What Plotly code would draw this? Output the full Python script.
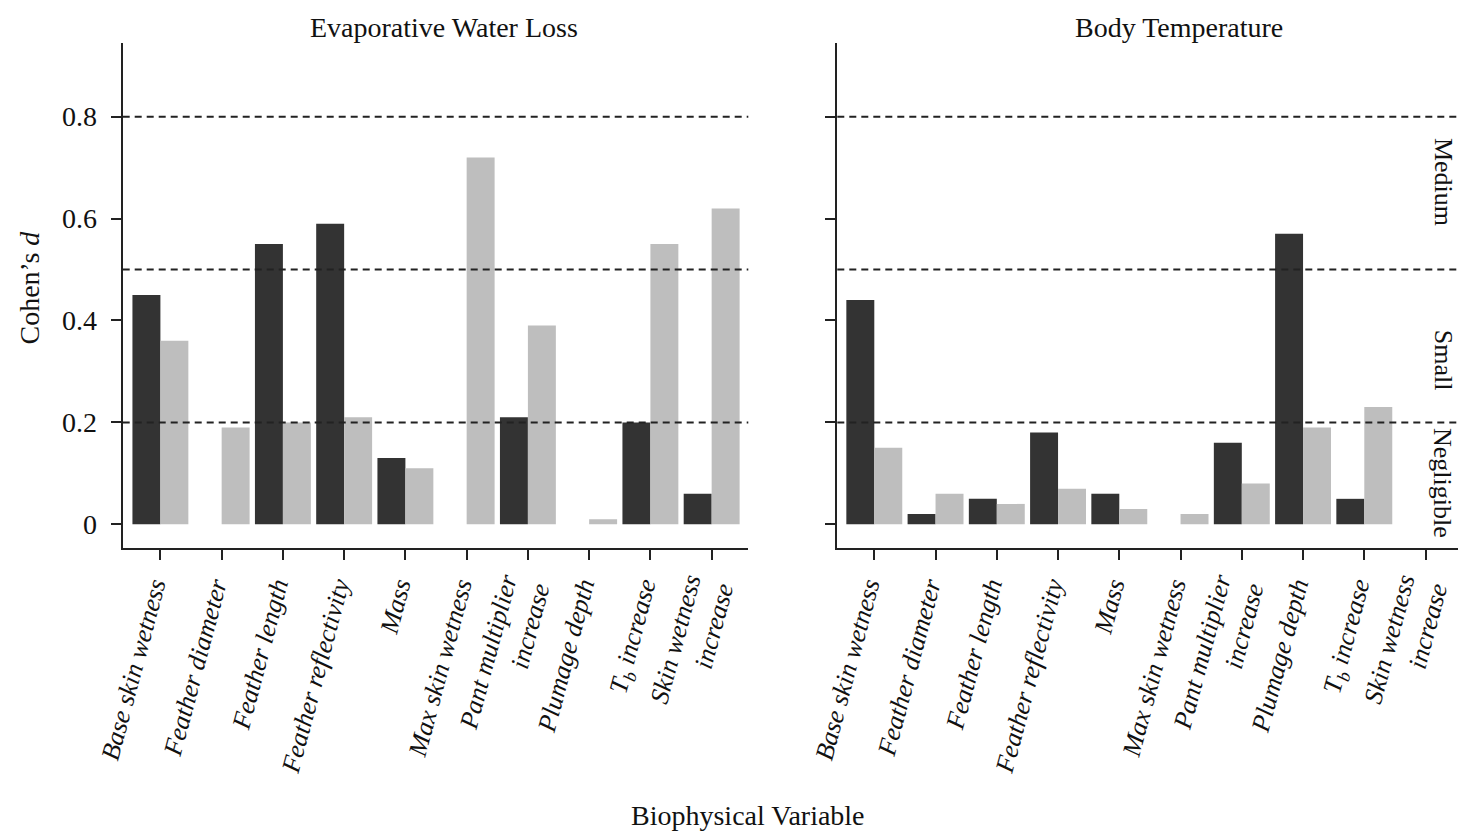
import plotly.graph_objects as go

categories = ["Base skin wetness", "Feather diameter", "Feather length", "Feather reflectivity",
              "Mass", "Max skin wetness", "Pant multiplier increase", "Plumage depth",
              "Tb increase", "Skin wetness increase"]
tick_labels = ["Base skin wetness", "Feather diameter", "Feather length", "Feather reflectivity",
               "Mass", "Max skin wetness", "Pant multiplier<br>increase", "Plumage depth",
               "T<sub>b</sub> increase", "Skin wetness<br>increase"]

ewl_dark = [0.45, 0.0, 0.55, 0.59, 0.13, 0.0, 0.21, 0.0, 0.20, 0.06]
ewl_light = [0.36, 0.19, 0.20, 0.21, 0.11, 0.72, 0.39, 0.01, 0.55, 0.62]
tb_dark = [0.44, 0.02, 0.05, 0.18, 0.06, 0.0, 0.16, 0.57, 0.05, 0.0]
tb_light = [0.15, 0.06, 0.04, 0.07, 0.03, 0.02, 0.08, 0.19, 0.23, 0.0]

thresholds = [0.2, 0.5, 0.8]
y_ticks = [0, 0.2, 0.4, 0.6, 0.8]
y_tick_text = ["0", "0.2", "0.4", "0.6", "0.8"]
band_labels = ["Medium", "Small", "Negligible"]
band_pos = [0.672, 0.323, 0.081]

DARK = "#333333"
LIGHT = "#bebebe"
FONT = "Liberation Serif"
W, H = 1458, 831

idx = list(range(len(categories)))

fig = go.Figure()
fig.add_trace(go.Bar(x=idx, y=ewl_dark, marker=dict(color=DARK, line=dict(width=0)), xaxis="x", yaxis="y", showlegend=False))
fig.add_trace(go.Bar(x=idx, y=ewl_light, marker=dict(color=LIGHT, line=dict(width=0)), xaxis="x", yaxis="y", showlegend=False))
fig.add_trace(go.Bar(x=idx, y=tb_dark, marker=dict(color=DARK, line=dict(width=0)), xaxis="x2", yaxis="y2", showlegend=False))
fig.add_trace(go.Bar(x=idx, y=tb_light, marker=dict(color=LIGHT, line=dict(width=0)), xaxis="x2", yaxis="y2", showlegend=False))

def px_x(p):
    return p / W

def px_y(p):
    return (H - p) / H

ydom = [px_y(548.3), px_y(42.7)]
yrange = [-0.0471, 0.9452]
spacing = 61.25

xaxis_common = dict(
    tickmode="array", tickvals=idx, ticktext=tick_labels, tickangle=-75,
    tickfont=dict(family=FONT, size=26, color="#111", style="italic"),
    ticks="outside", ticklen=10, tickwidth=1.5, tickcolor="#222",
    showline=True, linecolor="#222", linewidth=2, showgrid=False, zeroline=False,
    fixedrange=True, automargin=False, ticklabeloverflow="allow",
    ticklabelshift=-7,
)
yaxis_common = dict(
    tickmode="array", tickvals=y_ticks, ticktext=y_tick_text, range=yrange, domain=ydom,
    tickfont=dict(family=FONT, size=28, color="#111"),
    ticks="outside", ticklen=10, tickwidth=1.5, tickcolor="#222",
    showline=True, linecolor="#222", linewidth=2, showgrid=False, zeroline=False,
    automargin=False,
)

l0, l1 = 122.7, 748.3
r0, r1 = 837.3, 1458
fig.update_layout(
    xaxis=dict(xaxis_common, domain=[px_x(l0), px_x(l1)], anchor="y",
               range=[(l0 - 160.4) / spacing, (l1 - 160.4) / spacing]),
    yaxis=dict(yaxis_common, anchor="x", ticklabelstandoff=8),
    xaxis2=dict(xaxis_common, domain=[px_x(r0), 1.0], anchor="y2",
                range=[(r0 - 874.3) / spacing, (r1 - 874.3) / spacing]),
    yaxis2=dict(yaxis_common, anchor="x2", showticklabels=False),
    barmode="group", bargap=0.087, bargroupgap=0,
    width=W, height=H, margin=dict(l=0, r=0, t=0, b=0, pad=0, autoexpand=False),
    paper_bgcolor="white", plot_bgcolor="white",
    font=dict(family=FONT, color="#111"),
)

for t in thresholds:
    for xr, yr in (("x domain", "y"), ("x2 domain", "y2")):
        fig.add_shape(type="line", xref=xr, yref=yr, x0=0, x1=1, y0=t, y1=t,
                      line=dict(color="#222", width=2, dash="7px,5px"), layer="above")

annotations = [
    dict(text="Evaporative Water Loss", x=px_x(444), y=px_y(27)),
    dict(text="Body Temperature", x=px_x(1179), y=px_y(27)),
    dict(text="Biophysical Variable", x=px_x(748), y=px_y(815)),
    dict(text="Cohen\u2019s <i>d</i>", x=px_x(29), y=px_y(287.5), textangle=-90),
]
for a in annotations:
    fig.add_annotation(xref="paper", yref="paper", showarrow=False, xanchor="center", yanchor="middle",
                       font=dict(family=FONT, size=28, color="#111"), **a)

for lab, pos in zip(band_labels, band_pos):
    fig.add_annotation(xref="paper", yref="y2", x=px_x(1443), y=pos, text=lab, textangle=90,
                       showarrow=False, xanchor="center", yanchor="middle",
                       font=dict(family=FONT, size=26, color="#111"))

fig.write_html("out.html")
